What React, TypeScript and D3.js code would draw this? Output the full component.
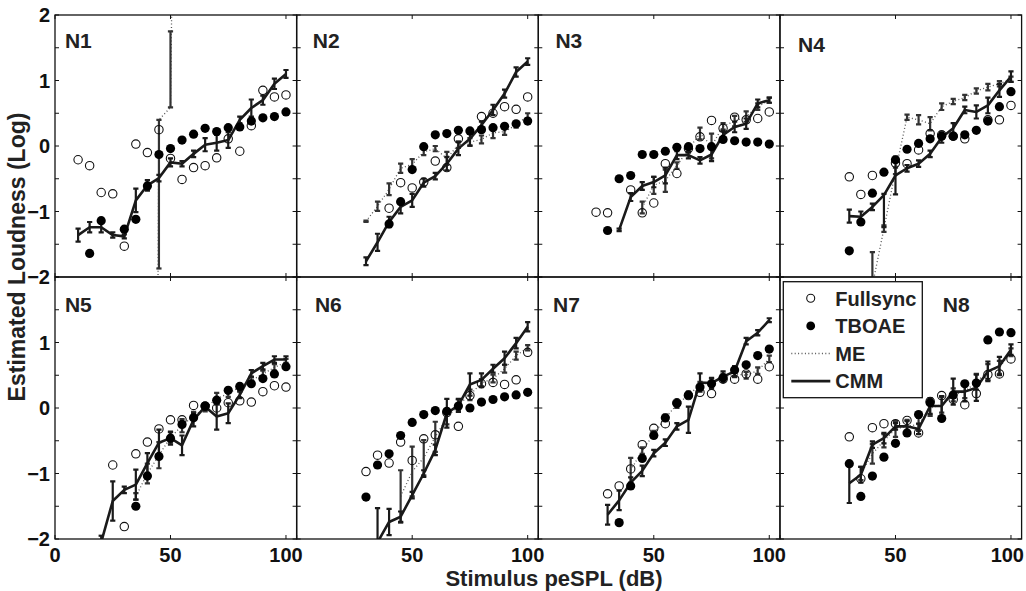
import React from "react";
import * as d3 from "d3";

const _ = null;
const levels = [10, 15, 20, 25, 30, 35, 40, 45, 50, 55, 60, 65, 70, 75, 80, 85, 90, 95, 100];
const panelNames = ["N1", "N2", "N3", "N4", "N5", "N6", "N7", "N8"];
const xTickValues = [0, 50, 100];
const yTickLabels = [2, 1, 0, -1, -2];

const fullsync = [
  [-0.21, -0.30, -0.71, -0.73, -1.53, 0.03, -0.10, 0.25, -0.19, -0.51, -0.33, -0.30, -0.18, 0.11, -0.08, 0.31, 0.85, 0.75, 0.78],
  [_, _, _, _, _, _, -0.95, -0.56, -0.64, -0.55, -0.23, -0.33, 0.11, _, 0.45, 0.50, 0.60, 0.56, 0.75],
  [_, _, _, -1.01, -1.02, _, -0.67, -1.02, -0.87, -0.27, -0.42, -0.04, 0.14, 0.39, 0.27, 0.44, 0.40, 0.42, 0.52],
  [_, _, _, _, -0.47, -0.74, -0.45, _, -0.26, -0.27, -0.06, 0.19, 0.17, 0.15, 0.11, _, 0.40, 0.40, 0.62],
  [_, _, _, -0.87, -1.81, -0.70, -0.52, -0.32, -0.18, -0.18, 0.04, 0.03, 0.0, 0.08, 0.11, 0.09, 0.25, 0.34, 0.32],
  [_, _, _, _, -0.97, -0.72, -0.84, -0.52, -0.80, -0.47, -0.41, -0.07, -0.28, 0.19, 0.37, 0.39, 0.36, 0.43, 0.85],
  [_, _, _, _, -1.31, -1.19, -0.93, -0.56, -0.31, -0.24, 0.08, 0.19, 0.24, 0.22, 0.44, 0.44, 0.52, 0.44, 0.63],
  [_, _, _, _, -0.44, -1.08, -0.30, -0.24, -0.24, -0.19, -0.38, 0.10, 0.19, 0.13, 0.05, 0.22, 0.51, 0.52, 0.75],
];

const tboae = [
  [_, -1.64, -1.14, _, -1.27, -1.12, -0.61, -0.13, -0.04, 0.09, 0.18, 0.27, 0.22, 0.28, 0.29, 0.38, 0.43, 0.45, 0.52],
  [_, _, _, _, _, _, -1.19, -0.85, -0.36, -0.01, 0.17, 0.19, 0.24, 0.23, 0.25, 0.28, 0.30, 0.34, 0.38],
  [_, _, _, _, -1.29, -0.50, -0.45, -0.13, -0.13, -0.08, -0.02, -0.01, -0.04, -0.01, 0.10, 0.08, 0.06, 0.06, 0.03],
  [_, _, _, _, -1.60, -1.16, -0.72, -0.40, -0.21, -0.05, 0.04, 0.11, 0.15, 0.15, 0.17, 0.24, 0.38, 0.60, 0.83],
  [_, _, _, _, _, -1.50, -1.04, -0.74, -0.46, -0.25, -0.15, 0.03, 0.12, 0.27, 0.33, 0.37, 0.45, 0.52, 0.63],
  [_, _, _, _, -1.36, -0.87, -0.70, -0.42, -0.22, -0.10, -0.04, -0.05, 0.03, 0.0, 0.09, 0.13, 0.17, 0.20, 0.24],
  [_, _, _, _, _, -1.75, -1.19, -0.77, -0.42, -0.15, 0.07, 0.20, 0.32, 0.37, 0.46, 0.58, 0.66, 0.80, 0.90],
  [_, _, _, _, -0.85, -1.35, -1.04, -0.75, -0.54, -0.38, -0.10, 0.08, -0.16, 0.20, 0.37, 0.38, 1.04, 1.16, 1.15],
];

const cmm = [
  [-1.36, -1.24, -1.24, -1.36, -1.38, -0.83, -0.60, -0.49, -0.25, -0.27, -0.12, 0.02, 0.05, 0.09, 0.40, 0.58, 0.70, 0.95, 1.10],
  [_, _, _, _, -1.76, -1.47, -1.16, -0.93, -0.83, -0.56, -0.46, -0.27, -0.04, 0.11, 0.32, 0.55, 0.80, 1.13, 1.29],
  [_, _, _, _, _, -1.28, -0.78, -0.61, -0.55, -0.45, -0.14, -0.14, -0.22, -0.13, 0.17, 0.29, 0.34, 0.65, 0.70],
  [_, _, _, _, -1.07, -1.08, -0.93, -0.75, -0.45, -0.34, -0.27, -0.12, 0.13, 0.27, 0.55, 0.52, 0.62, 0.85, 1.06],
  [_, _, -2.05, -1.42, -1.25, -1.17, -0.84, -0.53, -0.46, -0.57, -0.18, 0.02, -0.13, -0.08, 0.20, 0.53, 0.64, 0.74, 0.74],
  [_, _, _, _, _, -2.05, -1.74, -1.66, -1.33, -1.0, -0.64, -0.08, 0.04, 0.36, 0.43, 0.60, 0.76, 0.99, 1.24],
  [_, _, _, _, -1.63, -1.41, -1.14, -0.96, -0.69, -0.53, -0.28, -0.18, 0.39, 0.38, 0.48, 0.56, 1.02, 1.15, 1.34],
  [_, _, _, _, -1.15, -1.02, -0.56, -0.46, -0.28, -0.28, -0.32, 0.03, 0.03, 0.25, 0.25, 0.31, 0.56, 0.64, 0.89],
];

const cmmErr: any[][] = [
  [0.1, 0.08, 0.08, 0.04, 0.03, 0.18, 0.08, 0.05, 0.06, 0.04, 0.05, 0.1, 0.12, 0.12, 0.05, 0.13, 0.07, 0.08, 0.06],
  [_, _, _, _, 0.06, 0.13, 0.08, 0.1, 0.1, 0.06, 0.05, 0.1, 0.1, 0.1, 0.05, 0.08, 0.06, 0.07, 0.05],
  [_, _, _, _, _, 0.02, 0.06, 0.06, 0.08, 0.12, 0.06, 0.05, 0.05, 0.1, 0.06, 0.08, 0.08, 0.06, 0.04],
  [_, _, _, _, 0.1, 0.08, 0.05, [0.49, 0.02], 0.29, 0.05, 0.05, 0.05, 0.08, 0.08, 0.05, 0.1, 0.12, 0.1, 0.08],
  [_, _, 0.1, 0.3, 0.05, 0.23, 0.15, 0.2, 0.1, 0.15, 0.1, 0.05, 0.2, 0.15, 0.05, 0.05, 0.05, 0.05, 0.05],
  [_, _, _, _, _, 0.52, 0.2, 0.08, 0.05, 0.05, 0.08, 0.22, 0.1, 0.17, 0.1, 0.06, 0.1, 0.08, 0.07],
  [_, _, _, _, 0.15, 0.15, 0.08, 0.08, 0.05, 0.05, 0.05, 0.2, 0.14, 0.08, 0.08, 0.08, 0.05, 0.04, 0.03],
  [_, _, _, _, 0.3, 0.12, 0.05, 0.08, 0.05, 0.08, 0.08, 0.12, 0.15, 0.2, 0.15, 0.2, 0.15, 0.14, 0.08],
];

const me = [
  [_, _, _, _, _, _, -30, 0.4, 0.59, 15, _, _, _, _, _, _, _, _, _],
  [_, _, _, _, -1.15, -0.92, -0.66, -0.34, -0.28, -0.09, -0.04, -0.19, 0.02, 0.06, 0.10, 0.20, 0.22, 0.32, 0.46],
  [_, _, _, _, _, _, _, -0.94, -0.60, -0.53, -0.30, -0.05, 0.19, 0.0, 0.30, 0.38, 0.45, 0.60, 0.70],
  [_, _, _, _, _, _, -2.13, -1.26, -0.38, 0.44, 0.40, 0.34, 0.60, 0.68, 0.74, 0.84, 0.90, 0.95, 1.02],
  [_, _, _, _, _, -1.35, -1.0, -0.72, -0.45, -0.27, -0.12, 0.0, 0.14, 0.22, 0.32, 0.42, 0.52, 0.62, 0.70],
  [_, _, _, _, _, _, _, -1.35, -0.97, -0.76, -0.44, -0.15, 0.05, 0.20, 0.38, 0.45, 0.60, 0.80, 0.92],
  [_, _, _, _, _, _, -0.95, -0.65, -0.40, -0.15, 0.05, 0.20, 0.35, 0.40, 0.47, 0.52, 0.50, 0.57, 0.75],
  [_, _, _, _, _, -1.0, -0.70, -0.50, -0.32, -0.28, -0.25, 0.0, 0.05, 0.20, 0.25, 0.40, 0.55, 0.62, 0.85],
];

const meErr: any[][] = [
  [_, _, _, _, _, _, _, [2.27, 0], [0, 1.16], _, _, _, _, _, _, _, _, _, _],
  [_, _, _, _, 0.01, 0.07, 0.09, 0.07, 0.08, 0.05, 0.04, 0.1, 0.05, 0.06, 0.06, 0.08, 0.05, 0.04, 0.04],
  [_, _, _, _, _, _, _, 0.09, 0.13, 0.17, 0.05, 0.05, 0.09, 0.19, 0.05, 0.08, 0.08, 0.05, 0.04],
  [_, _, _, _, _, _, 0.51, 0.05, 0.05, 0.04, 0.07, 0.1, 0.05, 0.04, 0.04, 0.04, 0.05, 0.04, 0.04],
  [_, _, _, _, _, 0.05, 0.15, 0.2, 0.08, 0.1, 0.06, 0.05, 0.09, 0.05, 0.05, 0.05, 0.05, 0.05, 0.05],
  [_, _, _, _, _, _, _, 0.4, 0.38, 0.27, 0.23, 0.1, 0.08, 0.08, 0.06, 0.06, 0.06, 0.06, 0.04],
  [_, _, _, _, _, _, 0.19, 0.05, 0.05, 0.05, 0.05, 0.05, 0.05, 0.05, 0.05, 0.05, 0.05, 0.05, 0.05],
  [_, _, _, _, _, 0.1, 0.15, 0.1, 0.12, 0.1, 0.1, 0.12, 0.12, 0.1, 0.1, 0.12, 0.12, 0.1, 0.06],
];

// label anchor in data units (x dB, y log)
const labelAnchors = [[4.3, 1.5], [7, 1.5], [7.4, 1.5], [7.8, 1.43], [4.3, 1.47], [7.9, 1.47], [6.4, 1.47], [70.5, 1.47]];

const legendItems = ["Fullsync", "TBOAE", "ME", "CMM"];

const FONT = "'Liberation Sans', Arial, Helvetica, sans-serif";
const colLeft = [55, 296.7, 538.3, 780];
const rowTop = [15, 277];
const PW = 241.6;
const PH = 262;
const SVG_W = 1026;

const x = d3.scaleLinear().domain([0, 104.6]).range([0, PW]);
const y = d3.scaleLinear().domain([-2, 2]).range([PH, 0]);
const yMinorTicks = d3.range(-2, 2.01, 0.5);

function errSpan(e: any): [number, number] {
  if (e == null) return [0, 0];
  if (Array.isArray(e)) return [e[0], e[1]];
  return [e, e];
}

function points(vals: (number | null)[]) {
  return levels.map((l, i) => ({ l, v: vals[i], i })).filter((d) => d.v != null) as { l: number; v: number; i: number }[];
}

function ErrorBars({ vals, errs, stroke, width }: any) {
  const cap = 2.6;
  return (
    <g stroke={stroke} strokeWidth={width} fill="none">
      {points(vals).map((d) => {
        const [lo, hi] = errSpan(errs[d.i]);
        if (lo === 0 && hi === 0) return null;
        const cx = x(d.l);
        const y1 = y(d.v - lo);
        const y2 = y(d.v + hi);
        return (
          <g key={d.i}>
            <line x1={cx} x2={cx} y1={y1} y2={y2} />
            <line x1={cx - cap} x2={cx + cap} y1={y1} y2={y1} />
            <line x1={cx - cap} x2={cx + cap} y1={y2} y2={y2} />
          </g>
        );
      })}
    </g>
  );
}

function Panel({ p }: { p: number }) {
  const col = p % 4;
  const row = Math.floor(p / 4);
  const tx = colLeft[col];
  const ty = rowTop[row];
  const line = d3
    .line<{ l: number; v: number }>()
    .x((d) => x(d.l))
    .y((d) => y(d.v));
  const clipId = `clip${p}`;
  const tl = 4;
  return (
    <g transform={`translate(${tx},${ty})`}>
      <defs>
        <clipPath id={clipId}>
          <rect x={0} y={0} width={PW} height={PH} />
        </clipPath>
      </defs>
      <g clipPath={`url(#${clipId})`}>
        <path d={line(points(me[p])) || ""} fill="none" stroke="#555" strokeWidth={1.3} strokeDasharray="1,2.4" />
        <ErrorBars vals={me[p]} errs={meErr[p]} stroke="#333" width={2.2} />
        <path d={line(points(cmm[p])) || ""} fill="none" stroke="#1a1a1a" strokeWidth={2.6} strokeLinejoin="round" />
        <ErrorBars vals={cmm[p]} errs={cmmErr[p]} stroke="#1a1a1a" width={2.2} />
        {points(fullsync[p]).map((d) => (
          <circle key={"f" + d.i} cx={x(d.l)} cy={y(d.v)} r={4.2} fill="none" stroke="#111" strokeWidth={1.1} />
        ))}
        {points(tboae[p]).map((d) => (
          <circle key={"t" + d.i} cx={x(d.l)} cy={y(d.v)} r={4.6} fill="#000" />
        ))}
      </g>
      <rect x={0} y={0} width={PW} height={PH} fill="none" stroke="#111" strokeWidth={1.3} />
      <g stroke="#111" strokeWidth={1}>
        {xTickValues.map((t) => (
          <g key={"xt" + t}>
            <line x1={x(t)} x2={x(t)} y1={PH} y2={PH - tl} />
            <line x1={x(t)} x2={x(t)} y1={0} y2={tl} />
          </g>
        ))}
        {yMinorTicks.map((t) => (
          <g key={"yt" + t}>
            <line x1={0} x2={tl} y1={y(t)} y2={y(t)} />
            <line x1={PW} x2={PW - tl} y1={y(t)} y2={y(t)} />
          </g>
        ))}
      </g>
      <text
        x={x(labelAnchors[p][0])}
        y={y(labelAnchors[p][1])}
        fontFamily={FONT}
        fontWeight="bold"
        fontSize={21}
        fill="#222"
      >
        {panelNames[p]}
      </text>
      {col === 0 &&
        yTickLabels
          .filter((t) => row === 0 || t !== 2)
          .map((t) => (
            <text
              key={"yl" + t}
              x={-5}
              y={y(t)}
              dy="0.36em"
              textAnchor="end"
              fontFamily={FONT}
              fontWeight="bold"
              fontSize={20}
              fill="#111"
            >
              {t < 0 ? "\u2212" + Math.abs(t) : String(t)}
            </text>
          ))}
      {row === 1 &&
        xTickValues
          .filter((t) => col === 0 || t !== 0)
          .map((t) => {
            const overflow = tx + x(t) + 17 > SVG_W - 2;
            return (
              <text
                key={"xl" + t}
                x={overflow ? SVG_W - 2 - tx : x(t)}
                y={PH + 22.5}
                textAnchor={overflow ? "end" : "middle"}
                fontFamily={FONT}
                fontWeight="bold"
                fontSize={20}
                fill="#111"
              >
                {t}
              </text>
            );
          })}
    </g>
  );
}

function Legend() {
  const lx = 783.3;
  const ly = 281.7;
  const lw = 139;
  const lh = 116;
  const rowY = (i: number) => ly + 16.6 + i * 27.6;
  return (
    <g>
      <rect x={lx} y={ly} width={lw} height={lh} fill="#fff" stroke="#111" strokeWidth={1.3} />
      {legendItems.map((name, i) => {
        const cy = rowY(i);
        let sym: any = null;
        if (i === 0) sym = <circle cx={lx + 27.4} cy={cy} r={4} fill="none" stroke="#111" strokeWidth={1.1} />;
        if (i === 1) sym = <circle cx={lx + 27.4} cy={cy} r={4.4} fill="#000" />;
        if (i === 2)
          sym = <line x1={lx + 8} x2={lx + 47} y1={cy} y2={cy} stroke="#555" strokeWidth={1.3} strokeDasharray="1,2.4" />;
        if (i === 3) sym = <line x1={lx + 8} x2={lx + 47} y1={cy} y2={cy} stroke="#1a1a1a" strokeWidth={2.6} />;
        return (
          <g key={name}>
            {sym}
            <text x={lx + 52} y={cy} dy="0.36em" fontFamily={FONT} fontWeight="bold" fontSize={20} fill="#222">
              {name}
            </text>
          </g>
        );
      })}
    </g>
  );
}

export default function App() {
  return (
    <div style={{ position: "absolute", left: 0, top: 0 }}>
      <svg width={1026} height={591} style={{ display: "block", background: "#fff" }}>
        {panelNames.map((_n, p) => (
          <Panel key={p} p={p} />
        ))}
        <Legend />
        <text
          transform={`translate(25,257) rotate(-90)`}
          textAnchor="middle"
          fontFamily={FONT}
          fontWeight="bold"
          fontSize={23}
          fill="#222"
        >
          Estimated Loudness (Log)
        </text>
        <text x={554} y={586} textAnchor="middle" fontFamily={FONT} fontWeight="bold" fontSize={22} fill="#222">
          Stimulus peSPL (dB)
        </text>
      </svg>
    </div>
  );
}
